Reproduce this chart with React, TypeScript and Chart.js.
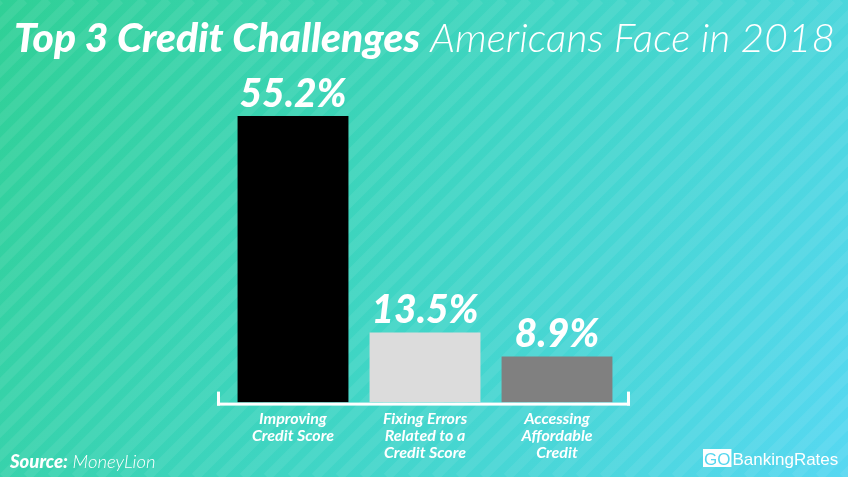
import React, { useEffect, useRef } from "react";
import { Chart, registerables } from "chart.js";

Chart.register(...registerables);

const categories: string[][] = [
  ["Improving", "Credit Score"],
  ["Fixing Errors", "Related to a", "Credit Score"],
  ["Accessing", "Affordable", "Credit"],
];
const values: number[] = [55.2, 13.5, 8.9];
const valueLabels: string[] = ["55.2%", "13.5%", "8.9%"];
const barColors: string[] = ["#000000", "#dcdcdc", "#808080"];
const titleBold = "Top 3 Credit Challenges";
const titleLight = " Americans Face in 2018";
const sourceBold = "Source:";
const sourceLight = " MoneyLion";

const FONT = "Lato, 'Open Sans', sans-serif";

const backgroundPlugin = {
  id: "bg",
  beforeDraw(chart: any) {
    const { ctx, width, height } = chart;
    ctx.save();
    const g = ctx.createLinearGradient(0, 0, width, height);
    g.addColorStop(0, "#30d096");
    g.addColorStop(0.5, "#3fd5c4");
    g.addColorStop(1, "#57d8f2");
    ctx.fillStyle = g;
    ctx.fillRect(0, 0, width, height);
    ctx.strokeStyle = "rgba(255,255,255,0.07)";
    ctx.lineWidth = 9;
    for (let x = -height; x < width + height; x += 24) {
      ctx.beginPath();
      ctx.moveTo(x, height);
      ctx.lineTo(x + height, 0);
      ctx.stroke();
    }
    ctx.restore();
  },
};

const overlayPlugin = {
  id: "overlay",
  afterDraw(chart: any) {
    const { ctx, chartArea } = chart;
    ctx.save();
    // bracket
    ctx.fillStyle = "#ffffff";
    const l = chartArea.left - 10;
    const r = chartArea.right + 7;
    const b = chartArea.bottom;
    ctx.fillRect(l, b, r - l, 3);
    ctx.fillRect(l, b - 11, 3, 14);
    ctx.fillRect(r - 3, b - 11, 3, 14);

    // value labels
    const meta = chart.getDatasetMeta(0);
    ctx.font = `italic 900 39px ${FONT}`;
    ctx.textAlign = "center";
    ctx.textBaseline = "alphabetic";
    meta.data.forEach((bar: any, i: number) => {
      ctx.fillText(valueLabels[i], bar.x, bar.y - 9);
    });

    // title
    ctx.textAlign = "left";
    const fBold = `italic 900 40px ${FONT}`;
    const fLight = `italic 300 40px ${FONT}`;
    ctx.font = fBold;
    const wb = ctx.measureText(titleBold).width;
    ctx.font = fLight;
    const wl = ctx.measureText(titleLight).width;
    const target = 821;
    const sx = target / (wb + wl);
    ctx.save();
    ctx.translate(14, 52);
    ctx.scale(sx, 1);
    ctx.font = fBold;
    ctx.fillText(titleBold, 0, 0);
    ctx.font = fLight;
    ctx.fillText(titleLight, wb, 0);
    ctx.restore();

    // source
    ctx.font = `italic 900 18.5px ${FONT}`;
    ctx.fillText(sourceBold, 10, 468);
    const ws = ctx.measureText(sourceBold).width;
    ctx.font = `italic 300 18.5px ${FONT}`;
    ctx.fillText(sourceLight, 10 + ws, 468);

    // logo
    ctx.font = `17px 'Liberation Sans', Arial, sans-serif`;
    const goW = ctx.measureText("GO").width + 2;
    const lx = 703;
    ctx.fillStyle = "#ffffff";
    ctx.fillRect(lx, 449, goW, 18);
    ctx.fillStyle = "#55d6ee";
    ctx.fillText("GO", lx + 1, 465);
    ctx.fillStyle = "#ffffff";
    ctx.fillText("BankingRates", lx + goW + 1, 465);
    ctx.restore();
  },
};

export default function App() {
  const ref = useRef<HTMLCanvasElement | null>(null);
  useEffect(() => {
    if (!ref.current) return;
    const chart = new Chart(ref.current, {
      type: "bar",
      data: {
        labels: categories,
        datasets: [
          {
            data: values,
            backgroundColor: barColors,
            borderWidth: 0,
            barPercentage: 0.84,
            categoryPercentage: 1,
          },
        ],
      },
      options: {
        animation: false,
        responsive: true,
        maintainAspectRatio: false,
        layout: { padding: { top: 91, left: 227, right: 225, bottom: 8 } },
        plugins: {
          legend: { display: false },
          tooltip: { enabled: false },
          title: { display: false },
        },
        scales: {
          y: { display: false, min: 0, max: 60 },
          x: {
            grid: { display: false, drawTicks: false },
            border: { display: false },
            ticks: {
              color: "#ffffff",
              padding: 8,
              font: { family: FONT, size: 16, weight: "bold", style: "italic", lineHeight: 1.05 },
              maxRotation: 0,
              autoSkip: false,
            },
          },
        },
      },
      plugins: [backgroundPlugin, overlayPlugin],
    });
    return () => chart.destroy();
  }, []);
  return (
    <div style={{ position: "fixed", left: 0, top: 0, width: 848, height: 477 }}>
      <canvas ref={ref} />
    </div>
  );
}
